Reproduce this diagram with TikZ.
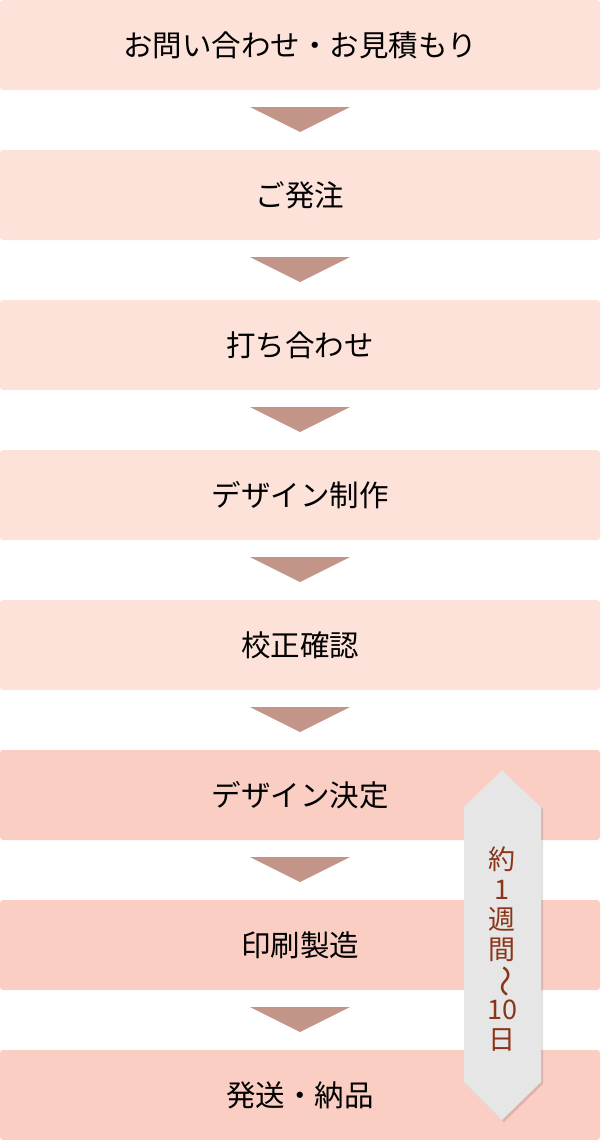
\documentclass[tikz,border=0pt]{standalone}
\usepackage{fontspec}
\usepackage{xcolor}
\usepackage{graphicx}
\setmainfont{Noto Sans CJK JP}
\definecolor{boxlight}{HTML}{FDE2DA}
\definecolor{boxdark}{HTML}{FBCEC4}
\definecolor{tricol}{HTML}{C39589}
\definecolor{spangray}{HTML}{E6E6E6}
\definecolor{spantext}{HTML}{8B3419}

\begin{document}
\begin{tikzpicture}[x=1pt,y=1pt]
\tikzstyle{every node}+=[inner sep=0pt]
\tikzstyle{stepbox}=[rectangle,rounded corners=3pt,minimum width=600pt,minimum height=90pt,font=\fontsize{29.5}{33}\selectfont,text=black]
\tikzstyle{tri}=[fill=tricol]
\useasboundingbox (0,0) rectangle (600,-1140);
\node [stepbox,fill=boxlight] (s1) at (300,-45) {お問い合わせ・お見積もり};
\node [stepbox,fill=boxlight] (s2) at (300,-195) {ご発注};
\node [stepbox,fill=boxlight] (s3) at (300,-345) {打ち合わせ};
\node [stepbox,fill=boxlight] (s4) at (300,-495) {デザイン制作};
\node [stepbox,fill=boxlight] (s5) at (300,-645) {校正確認};
\node [stepbox,fill=boxdark] (s6) at (300,-795) {デザイン決定};
\node [stepbox,fill=boxdark] (s7) at (300,-945) {印刷製造};
\node [stepbox,fill=boxdark] (s8) at (300,-1095) {発送・納品};
% arrows between steps
\fill [tri] (250,-107) -- (350,-107) -- (300,-132) -- cycle;
\fill [tri] (250,-257) -- (350,-257) -- (300,-282) -- cycle;
\fill [tri] (250,-407) -- (350,-407) -- (300,-432) -- cycle;
\fill [tri] (250,-557) -- (350,-557) -- (300,-582) -- cycle;
\fill [tri] (250,-707) -- (350,-707) -- (300,-732) -- cycle;
\fill [tri] (250,-857) -- (350,-857) -- (300,-882) -- cycle;
\fill [tri] (250,-1007) -- (350,-1007) -- (300,-1032) -- cycle;
% period marker
\fill [black,opacity=0.12] (504,-772) -- (543,-809) -- (543,-1084) -- (504,-1122) -- (466,-1084) -- (466,-809) -- cycle;
\fill [spangray] (502,-770) -- (541,-807) -- (541,-1082) -- (502,-1120) -- (464,-1082) -- (464,-807) -- cycle;
\node [align=center,text=spantext,font=\fontsize{27}{30}\selectfont] (span) at (502,-949)
  {約\\1\\週\\間\\\rotatebox[origin=c]{-90}{\fontsize{32}{30}\selectfont ～}\\10\\日};
\end{tikzpicture}
\end{document}
